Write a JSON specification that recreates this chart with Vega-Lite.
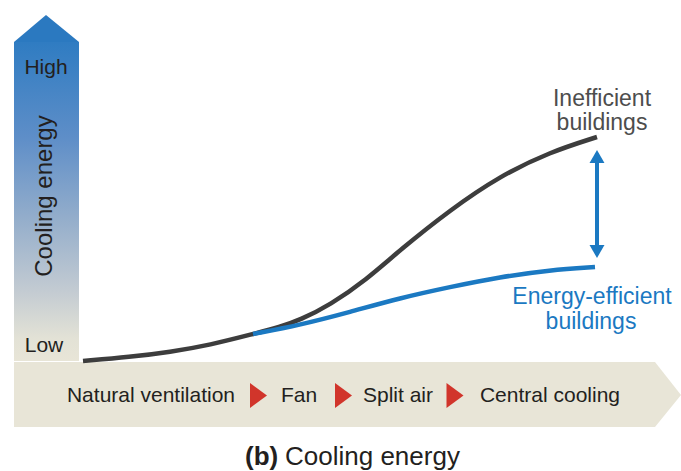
{
  "$schema": "https://vega.github.io/schema/vega-lite/v6.json",
  "width": 681,
  "height": 471,
  "autosize": {"type": "fit", "contains": "padding"},
  "padding": 0,
  "background": "white",
  "config": {"view": {"stroke": null}, "text": {"font": "Liberation Sans"}},
  "encoding": {
    "x": {"field": "x", "type": "quantitative", "axis": null, "scale": {"domain": [0, 681], "nice": false, "zero": false}},
    "y": {"field": "y", "type": "quantitative", "axis": null, "scale": {"domain": [0, 471], "nice": false, "zero": false}}
  },
  "layer": [
    {
      "data": {"values": [
        {"x": 14, "y": 109, "y2": 44},
        {"x": 655, "y": 109, "y2": 44},
        {"x": 681, "y": 76, "y2": 76}
      ]},
      "mark": {"type": "area", "color": "#e8e5d7", "interpolate": "linear"},
      "encoding": {"y2": {"field": "y2"}}
    },
    {
      "data": {"values": [{"x": 14, "x2": 79, "y": 110, "y2": 429}]},
      "mark": {"type": "rect", "fill": {
        "gradient": "linear", "x1": 0, "y1": 0, "x2": 0, "y2": 1,
        "stops": [
          {"offset": 0, "color": "#2f7cc2"},
          {"offset": 0.3, "color": "#5e8ec8"},
          {"offset": 0.55, "color": "#93adcb"},
          {"offset": 0.78, "color": "#c3cbd2"},
          {"offset": 0.93, "color": "#e3e2d6"},
          {"offset": 1, "color": "#e8e5d7"}
        ]}},
      "encoding": {"x2": {"field": "x2"}, "y2": {"field": "y2"}}
    },
    {
      "data": {"values": [
        {"x": 14, "y": 429, "y2": 429},
        {"x": 46, "y": 456, "y2": 429},
        {"x": 79, "y": 429, "y2": 429}
      ]},
      "mark": {"type": "area", "color": "#2b79c0", "interpolate": "linear"},
      "encoding": {"y2": {"field": "y2"}}
    },
    {
      "data": {"values": [
        {"x": 83, "y": 110}, {"x": 130, "y": 114}, {"x": 170, "y": 119},
        {"x": 210, "y": 126}, {"x": 253, "y": 137}, {"x": 280, "y": 144},
        {"x": 300, "y": 151}, {"x": 330, "y": 166}, {"x": 366, "y": 191},
        {"x": 400, "y": 221}, {"x": 450, "y": 261}, {"x": 500, "y": 295},
        {"x": 550, "y": 319}, {"x": 597, "y": 334}
      ]},
      "mark": {"type": "line", "color": "#3d3d3d", "strokeWidth": 4.5, "interpolate": "basis", "strokeCap": "butt"}
    },
    {
      "data": {"values": [
        {"x": 253, "y": 137}, {"x": 300, "y": 146}, {"x": 350, "y": 159},
        {"x": 400, "y": 173}, {"x": 450, "y": 184}, {"x": 500, "y": 194},
        {"x": 550, "y": 201}, {"x": 595, "y": 204}
      ]},
      "mark": {"type": "line", "color": "#1b79c2", "strokeWidth": 4.5, "interpolate": "basis", "strokeCap": "butt"}
    },
    {
      "data": {"values": [{"x": 597, "y": 311, "y2": 223}]},
      "mark": {"type": "rule", "color": "#1b79c2", "strokeWidth": 4},
      "encoding": {"y2": {"field": "y2"}}
    },
    {
      "data": {"values": [{"x": 597, "y": 314.5}]},
      "mark": {"type": "point", "shape": "M0,-1L1.15,1L-1.15,1Z", "filled": true, "size": 169, "color": "#1b79c2", "opacity": 1}
    },
    {
      "data": {"values": [{"x": 597, "y": 219.5}]},
      "mark": {"type": "point", "shape": "M0,1L1.15,-1L-1.15,-1Z", "filled": true, "size": 169, "color": "#1b79c2", "opacity": 1}
    },
    {
      "data": {"values": [{"x": 258.5, "y": 75.5}, {"x": 343.5, "y": 75.5}, {"x": 455, "y": 75.5}]},
      "mark": {"type": "point", "shape": "M-0.68,-1L0.68,0L-0.68,1Z", "filled": true, "size": 625, "color": "#d1352b", "opacity": 1}
    },
    {
      "data": {"values": [
        {"x": 151, "y": 69, "label": "Natural ventilation"},
        {"x": 299, "y": 69, "label": "Fan"},
        {"x": 398, "y": 69, "label": "Split air"},
        {"x": 550, "y": 69, "label": "Central cooling"}
      ]},
      "mark": {"type": "text", "fontSize": 21, "color": "#231f20", "align": "center", "baseline": "alphabetic"},
      "encoding": {"text": {"field": "label"}}
    },
    {
      "data": {"values": [
        {"x": 46, "y": 397, "label": "High"},
        {"x": 44, "y": 119, "label": "Low"}
      ]},
      "mark": {"type": "text", "fontSize": 21, "color": "#231f20", "align": "center", "baseline": "alphabetic"},
      "encoding": {"text": {"field": "label"}}
    },
    {
      "data": {"values": [{"x": 52, "y": 275, "label": "Cooling energy"}]},
      "mark": {"type": "text", "fontSize": 24, "color": "#231f20", "align": "center", "baseline": "alphabetic", "angle": 270},
      "encoding": {"text": {"field": "label"}}
    },
    {
      "data": {"values": [
        {"x": 602, "y": 365, "label": "Inefficient"},
        {"x": 602, "y": 341, "label": "buildings"}
      ]},
      "mark": {"type": "text", "fontSize": 23, "color": "#4d4d4d", "align": "center", "baseline": "alphabetic"},
      "encoding": {"text": {"field": "label"}}
    },
    {
      "data": {"values": [
        {"x": 592, "y": 167, "label": "Energy-efficient"},
        {"x": 591, "y": 142, "label": "buildings"}
      ]},
      "mark": {"type": "text", "fontSize": 23, "color": "#1b79c2", "align": "center", "baseline": "alphabetic"},
      "encoding": {"text": {"field": "label"}}
    },
    {
      "data": {"values": [{"x": 245, "y": 6, "label": "(b)"}]},
      "mark": {"type": "text", "fontSize": 26, "fontWeight": "bold", "color": "#231f20", "align": "left", "baseline": "alphabetic"},
      "encoding": {"text": {"field": "label"}}
    },
    {
      "data": {"values": [{"x": 285, "y": 6, "label": "Cooling energy"}]},
      "mark": {"type": "text", "fontSize": 26, "color": "#231f20", "align": "left", "baseline": "alphabetic"},
      "encoding": {"text": {"field": "label"}}
    }
  ]
}
